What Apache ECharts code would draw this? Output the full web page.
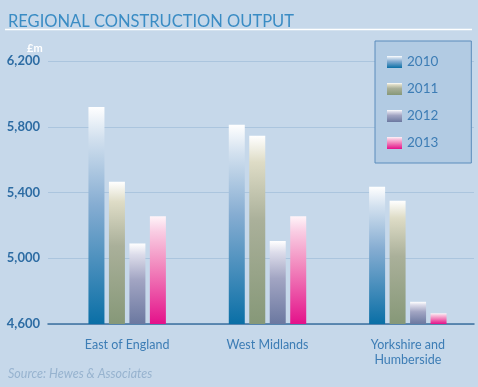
<!DOCTYPE html>
<html>
<head>
<meta charset="utf-8">
<script src="https://cdn.jsdelivr.net/npm/echarts@6/dist/echarts.min.js"></script>
<style>
html,body{margin:0;padding:0;background:#c6d8ea;}
#chart{width:478px;height:387px;}
</style>
</head>
<body>
<div id="chart"></div>
<script>
var categories = ['East of England', 'West Midlands', 'Yorkshire and\nHumberside'];
var years = ['2010', '2011', '2012', '2013'];
var values2010 = [5920, 5812, 5435];
var values2011 = [5465, 5745, 5350];
var values2012 = [5090, 5105, 4735];
var values2013 = [5255, 5255, 4665];
var yTicks = [4600, 5000, 5400, 5800, 6200];

var seriesValues = [values2010, values2011, values2012, values2013];
var gradients = [
  ['#ffffff', '#d3e1ef', '#86add2', '#0a6fa6'],
  ['#ffffff', '#dedcc6', '#aab09a', '#869878'],
  ['#ffffff', '#dcdcea', '#a2a5c3', '#6b78a0'],
  ['#fff4f9', '#f9cde3', '#f28bbf', '#e4118a']
];
function grad(c) {
  return new echarts.graphic.LinearGradient(0, 0, 0, 1, [
    {offset: 0, color: c[0]},
    {offset: 0.14, color: c[1]},
    {offset: 0.45, color: c[2]},
    {offset: 1, color: c[3]}
  ]);
}

var chart = echarts.init(document.getElementById('chart'));
var FONT = 'Lato, "Open Sans", sans-serif';
var series = years.map(function (y, i) {
  return {
    name: y,
    type: 'bar',
    xAxisIndex: 1,
    yAxisIndex: 1,
    barWidth: 16,
    barGap: '28%',
    data: seriesValues[i],
    itemStyle: {color: grad(gradients[i])}
  };
});

chart.setOption({
  backgroundColor: '#c6d8ea',
  animation: false,
  textStyle: {fontFamily: FONT},
  title: {
    text: 'REGIONAL CONSTRUCTION OUTPUT',
    left: 3, top: 8,
    textStyle: {fontFamily: FONT, fontSize: 16.5, fontWeight: 400, color: '#3a8cc4'}
  },
  graphic: [
    {type: 'line', shape: {x1: 5, y1: 29.5, x2: 472, y2: 29.5}, style: {stroke: '#ffffff', lineWidth: 1.5}},
    {type: 'text', left: 27, top: 43, style: {text: '£m', fill: '#ffffff', font: 'bold 11px ' + FONT}},
    {type: 'text', left: 8, top: 367, style: {text: 'Source: Hewes & Associates', fill: '#97b3cf', font: 'italic 12.5px ' + FONT}}
  ],
  legend: {
    data: years,
    orient: 'vertical',
    left: 375, top: 41,
    padding: [14, 33, 13, 12],
    itemWidth: 15, itemHeight: 12, itemGap: 13, itemTextGap: 18,
    icon: 'rect',
    backgroundColor: '#b2cbe3',
    borderColor: '#5a8cbc',
    borderWidth: 1,
    textStyle: {color: '#3d7db5', fontSize: 13.5, fontFamily: FONT}
  },
  grid: [
    {left: 48, right: 4, top: 61, bottom: 63},
    {left: 57, width: 428, top: 61, bottom: 63}
  ],
  xAxis: [
    {
      type: 'category', gridIndex: 0, data: categories,
      axisLine: {lineStyle: {color: '#3b6f9f', width: 1.5}},
      axisTick: {show: false}, axisLabel: {show: false}
    },
    {
      type: 'category', gridIndex: 1, data: categories,
      axisLine: {show: false}, axisTick: {show: false},
      axisLabel: {color: '#3d7db5', fontSize: 12.5, margin: 13, lineHeight: 15, fontFamily: FONT}
    }
  ],
  yAxis: [
    {
      type: 'value', gridIndex: 0,
      min: yTicks[0], max: yTicks[yTicks.length - 1], interval: 400,
      axisLine: {show: false}, axisTick: {show: false},
      axisLabel: {
        color: '#2d6ca3', fontSize: 13, fontWeight: 'bold', margin: 8, fontFamily: FONT,
        formatter: function (v) { return v.toLocaleString('en-US'); }
      },
      splitLine: {lineStyle: {color: '#abc5de', width: 1.2}}
    },
    {
      type: 'value', gridIndex: 1,
      min: yTicks[0], max: yTicks[yTicks.length - 1], interval: 400,
      show: false, splitLine: {show: false}
    }
  ],
  series: series
});
</script>
</body>
</html>
